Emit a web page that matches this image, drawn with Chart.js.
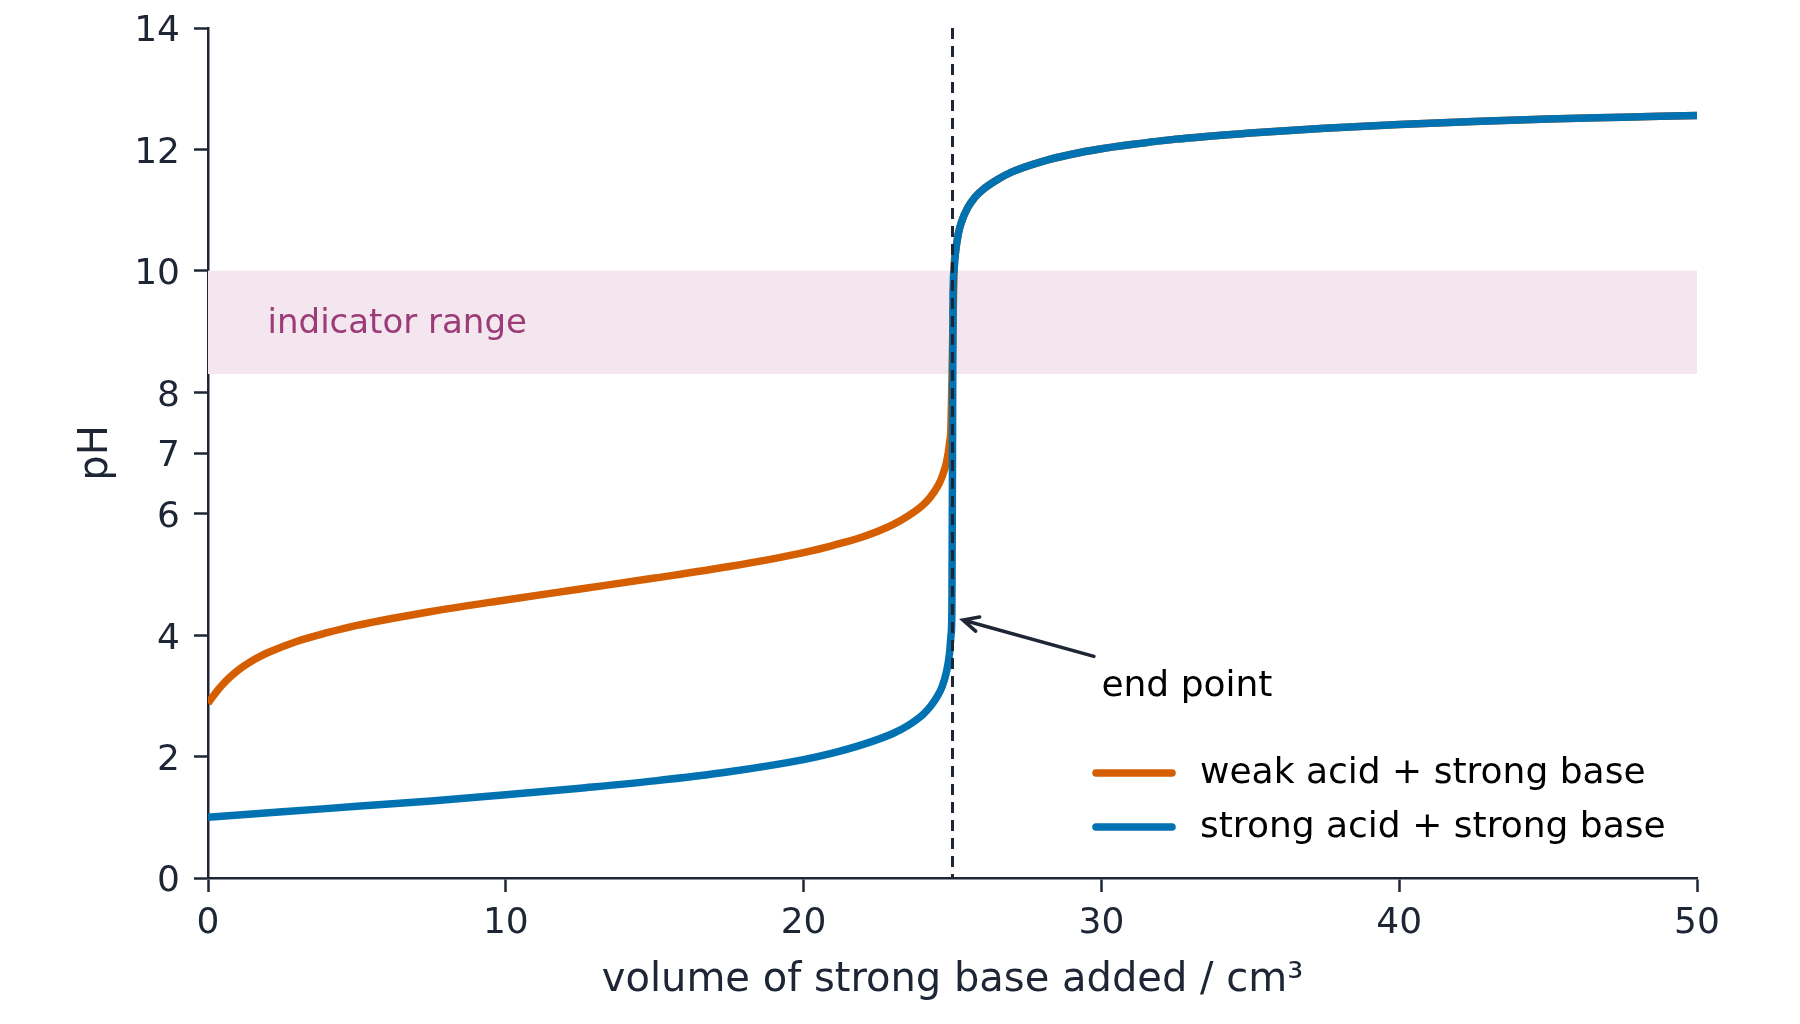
<!DOCTYPE html>
<html>
<head>
<meta charset="utf-8">
<script src="https://cdn.jsdelivr.net/npm/chart.js@4.4.1/dist/chart.umd.min.js"></script>
<style>
  html, body { margin: 0; padding: 0; background: #ffffff; }
  #wrap { width: 1800px; height: 1024px; position: relative; }
</style>
</head>
<body>
<div id="wrap"><canvas id="titration"></canvas></div>
<script>
// Titration curves

// strong acid + strong base
const volStrong = [0, 2.5, 5, 7.5, 10, 12.5, 15, 17.5, 20, 21, 22, 23, 23.5, 24, 24.25, 24.5, 24.65, 24.8, 24.9, 24.95, 24.98, 25, 25.02, 25.05, 25.1, 25.2, 25.3, 25.5, 25.75, 26, 26.5, 27, 28, 29, 30, 31, 32.5, 35, 37.5, 40, 42.5, 45, 47.5, 50];
const phStrong = [1.00, 1.09, 1.18, 1.27, 1.37, 1.48, 1.60, 1.75, 1.95, 2.06, 2.20, 2.38, 2.51, 2.69, 2.82, 3.00, 3.15, 3.40, 3.70, 4.00, 4.40, 7.00, 9.60, 10.00, 10.30, 10.62, 10.80, 11.03, 11.21, 11.33, 11.50, 11.63, 11.80, 11.92, 12.01, 12.08, 12.17, 12.27, 12.35, 12.41, 12.46, 12.50, 12.53, 12.56];

// weak acid + strong base
const volWeak = [0, 0.1, 0.25, 0.5, 0.75, 1, 1.25, 1.5, 1.75, 2, 3, 4, 5, 7.5, 10, 12.5, 15, 17.5, 20, 21, 22, 23, 23.5, 24, 24.25, 24.5, 24.65, 24.8, 24.9, 24.95, 25, 25.05, 25.1, 25.2, 25.3, 25.5, 25.75, 26, 26.5, 27, 28, 29, 30, 31, 32.5, 35, 37.5, 40, 42.5, 45, 47.5, 50];
const phWeak = [2.880, 2.946, 3.045, 3.190, 3.313, 3.418, 3.505, 3.583, 3.650, 3.710, 3.900, 4.040, 4.160, 4.39, 4.58, 4.76, 4.94, 5.13, 5.36, 5.48, 5.62, 5.82, 5.96, 6.14, 6.27, 6.45, 6.61, 6.85, 7.16, 7.46, 8.72, 10.00, 10.30, 10.62, 10.80, 11.03, 11.21, 11.33, 11.50, 11.63, 11.80, 11.92, 12.01, 12.08, 12.17, 12.27, 12.35, 12.41, 12.46, 12.50, 12.53, 12.56];

const seriesLabels = ["weak acid + strong base", "strong acid + strong base"];
const seriesColors = ["#d55e00", "#0072b2"];

// axes
const phTicks = [0, 2, 4, 6, 7, 8, 10, 12, 14];
const volRange = [0, 50];
const phRange = [0, 14];

// annotations
const indicatorRange = [8.3, 10];
const indicatorLabel = { text: "indicator range", x: 2, y: 9.13 };
const endPointVol = 25;
const endPointLabel = { text: "end point", x: 30, y: 3.15 };
const arrowFrom = { x: 29.75, y: 3.65 };
const arrowTo = { x: 25.35, y: 4.25 };

const axisColor = "#1e2636";
const fontFamily = "'DejaVu Sans', sans-serif";

function toPoints(xs, ys) {
    return xs.map((x, i) => ({ x: x, y: ys[i] }));
}

// text, arrow and legend drawn on top of the plot
const overlayPlugin = {
    id: "overlay",
    afterDatasetsDraw(chart) {
        const { ctx, chartArea, scales } = chart;
        const sx = scales.x, sy = scales.y;
        ctx.save();

        ctx.font = "34px " + fontFamily;
        ctx.textBaseline = "middle";
        ctx.textAlign = "left";
        ctx.fillStyle = "#9b3b77";
        ctx.fillText(indicatorLabel.text, sx.getPixelForValue(indicatorLabel.x), sy.getPixelForValue(indicatorLabel.y));

        // arrow to the end point
        const x0 = sx.getPixelForValue(arrowFrom.x), y0 = sy.getPixelForValue(arrowFrom.y);
        const x1 = sx.getPixelForValue(arrowTo.x), y1 = sy.getPixelForValue(arrowTo.y);
        const ang = Math.atan2(y1 - y0, x1 - x0);
        ctx.strokeStyle = axisColor;
        ctx.lineWidth = 3.5;
        ctx.lineCap = "round";
        ctx.beginPath();
        ctx.moveTo(x0, y0);
        ctx.lineTo(x1, y1);
        ctx.moveTo(x1 - 17 * Math.cos(ang - 0.45), y1 - 17 * Math.sin(ang - 0.45));
        ctx.lineTo(x1, y1);
        ctx.lineTo(x1 - 17 * Math.cos(ang + 0.45), y1 - 17 * Math.sin(ang + 0.45));
        ctx.stroke();

        ctx.fillStyle = "#000000";
        ctx.font = "36px " + fontFamily;
        ctx.fillText(endPointLabel.text, sx.getPixelForValue(endPointLabel.x), sy.getPixelForValue(endPointLabel.y));

        // legend, lower right inside the plot
        seriesLabels.forEach((label, i) => {
            const y = chartArea.bottom - 105 + i * 54;
            ctx.strokeStyle = seriesColors[i];
            ctx.lineWidth = 7.5;
            ctx.lineCap = "round";
            ctx.beginPath();
            ctx.moveTo(chartArea.right - 601, y);
            ctx.lineTo(chartArea.right - 525, y);
            ctx.stroke();
            ctx.fillStyle = "#000000";
            ctx.fillText(label, chartArea.right - 497, y + 1);
        });

        ctx.restore();
    },
};

Chart.defaults.font.family = fontFamily;
Chart.defaults.color = axisColor;

new Chart(document.getElementById("titration"), {
    type: "line",
    data: {
        datasets: [
            {
                label: "end point",
                data: [{ x: endPointVol, y: phRange[1] }, { x: endPointVol, y: phRange[0] }],
                borderColor: axisColor,
                borderWidth: 3,
                borderDash: [11, 7],
                pointRadius: 0,
                order: 0,
            },
            {
                label: seriesLabels[1],
                data: toPoints(volStrong, phStrong),
                borderColor: seriesColors[1],
                borderWidth: 7.5,
                cubicInterpolationMode: "monotone",
                pointRadius: 0,
                order: 1,
            },
            {
                label: seriesLabels[0],
                data: toPoints(volWeak, phWeak),
                borderColor: seriesColors[0],
                borderWidth: 7.5,
                cubicInterpolationMode: "monotone",
                pointRadius: 0,
                order: 2,
            },
            {
                label: "indicator range",
                data: [{ x: volRange[0], y: indicatorRange[1] }, { x: volRange[1], y: indicatorRange[1] }],
                borderWidth: 0,
                borderColor: "rgba(0,0,0,0)",
                backgroundColor: "#f4e6ee",
                fill: { value: indicatorRange[0] },
                pointRadius: 0,
                order: 3,
            },
        ],
    },
    options: {
        responsive: true,
        maintainAspectRatio: false,
        animation: false,
        layout: { padding: { top: 28, right: 103, left: 0, bottom: 0 } },
        plugins: {
            legend: { display: false },
            tooltip: { enabled: false },
        },
        scales: {
            x: {
                type: "linear",
                min: volRange[0],
                max: volRange[1],
                afterFit: (scale) => {
                    scale.height = 146;
                    scale.paddingLeft = 0;
                    scale.paddingRight = 0;
                },
                ticks: { stepSize: 10, padding: 10, color: axisColor, font: { size: 36 } },
                grid: { drawOnChartArea: false, drawTicks: true, tickLength: 14, tickWidth: 2.5, tickColor: axisColor },
                border: { display: true, color: axisColor, width: 2.5 },
                title: {
                    display: true,
                    text: "volume of strong base added / cm³",
                    color: axisColor,
                    font: { size: 40 },
                    padding: { top: 0, bottom: 19 },
                },
            },
            y: {
                type: "linear",
                min: phRange[0],
                max: phRange[1],
                afterFit: (scale) => {
                    scale.width = 208;
                    scale.paddingTop = 0;
                    scale.paddingBottom = 0;
                },
                afterBuildTicks: (scale) => { scale.ticks = phTicks.map((v) => ({ value: v })); },
                ticks: { padding: 14, labelOffset: 4, color: axisColor, font: { size: 36 } },
                grid: { drawOnChartArea: false, drawTicks: true, tickLength: 14, tickWidth: 2.5, tickColor: axisColor },
                border: { display: true, color: axisColor, width: 2.5 },
                title: {
                    display: true,
                    text: "pH",
                    color: axisColor,
                    font: { size: 40 },
                    padding: { top: 73, bottom: 0 },
                },
            },
        },
    },
    plugins: [overlayPlugin],
});
</script>
</body>
</html>
